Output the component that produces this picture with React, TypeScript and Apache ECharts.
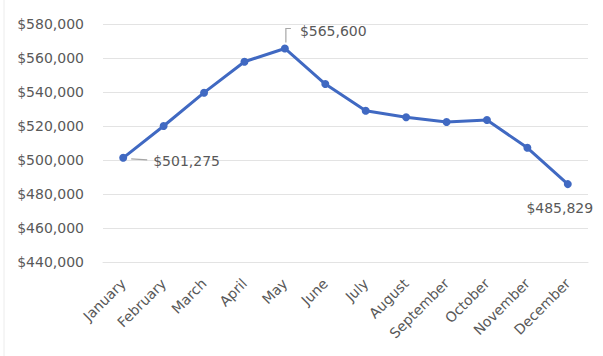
import React, { useEffect, useRef } from "react";
import * as echarts from "echarts";

const months = ["January", "February", "March", "April", "May", "June", "July", "August", "September", "October", "November", "December"];
const sales = [501275, 520000, 539600, 557800, 565600, 544700, 529000, 525100, 522400, 523500, 507200, 485829];
const yMin = 440000;
const yMax = 580000;
const yStep = 20000;
const labelledIdx = [0, 4, 11];

const FONT = "DejaVu Sans";
const GRAY = "#595959";
const LEADER = "#a6a6a6";

export default function App() {
  const ref = useRef<HTMLDivElement>(null);
  useEffect(() => {
    if (!ref.current) return;
    const chart = echarts.init(ref.current, null, { renderer: "svg" });
    const fmt = (v: number) => "$" + v.toLocaleString("en-US");
    const textStyle = (text: string, x: number, y: number, align: string) => ({
      type: "text",
      x,
      y,
      style: { text, fill: GRAY, font: `14px "${FONT}"`, align, verticalAlign: "middle" },
    });
    chart.setOption({
      animation: false,
      backgroundColor: "#ffffff",
      grid: { left: 103, right: 15, top: 24, bottom: 94, containLabel: false },
      xAxis: {
        type: "category",
        data: months,
        boundaryGap: true,
        axisLine: { show: true, lineStyle: { color: "#e3e3e3" } },
        axisTick: { show: false },
        axisLabel: { rotate: 45, margin: 19, color: GRAY, fontFamily: FONT, fontSize: 14, interval: 0 },
      },
      yAxis: {
        type: "value",
        min: yMin,
        max: yMax,
        interval: yStep,
        axisLine: { show: false },
        axisTick: { show: false },
        splitLine: { lineStyle: { color: "#e3e3e3" } },
        axisLabel: { margin: 19, color: GRAY, fontFamily: FONT, fontSize: 14, formatter: (v: number) => fmt(v) },
      },
      series: [
        {
          type: "line",
          data: sales,
          symbol: "circle",
          symbolSize: 8,
          lineStyle: { color: "#4069c2", width: 3 },
          itemStyle: { color: "#4069c2" },
          z: 3,
        },
        {
          type: "custom",
          z: 4,
          data: labelledIdx.map((i) => [i, sales[i]]),
          encode: { x: 0, y: 1 },
          renderItem: (params: any, api: any) => {
            const idx = api.value(0);
            const val = api.value(1);
            const [px, py] = api.coord([idx, val]);
            const text = fmt(val);
            if (idx === 0) {
              return {
                type: "group",
                children: [
                  { type: "polyline", shape: { points: [[px + 8, py + 1], [px + 24, py + 2]] }, style: { stroke: LEADER, lineWidth: 1.2, fill: null } },
                  textStyle(text, px + 30, py + 3, "left"),
                ],
              };
            }
            if (idx === 4) {
              return {
                type: "group",
                children: [
                  { type: "polyline", shape: { points: [[px + 1, py - 6], [px + 1, py - 20], [px + 6, py - 20]] }, style: { stroke: LEADER, lineWidth: 1.2, fill: null } },
                  textStyle(text, px + 15, py - 17, "left"),
                ],
              };
            }
            return { type: "group", children: [textStyle(text, px - 8, py + 24, "center")] };
          },
        },
      ],
      graphic: [
        { type: "line", shape: { x1: 4, y1: 0, x2: 4, y2: 356 }, style: { stroke: "#ececec", lineWidth: 1 } },
      ],
    });
    return () => chart.dispose();
  }, []);
  return <div ref={ref} style={{ position: "fixed", left: 0, top: 0, width: 603, height: 356 }} />;
}
